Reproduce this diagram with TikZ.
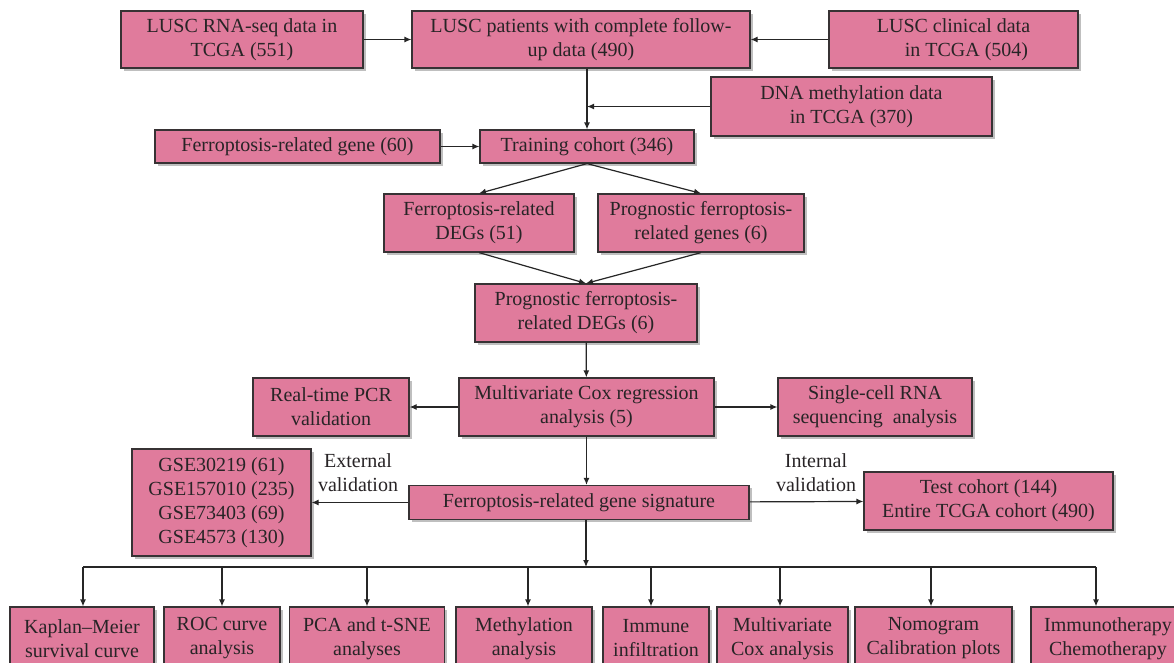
\documentclass[tikz,border=0pt]{standalone}
\usepackage{fontspec}
\setmainfont{Liberation Serif}
\usetikzlibrary{arrows.meta,shadows}
\definecolor{boxfill}{RGB}{224,123,156}
\definecolor{boxline}{RGB}{55,50,52}
\definecolor{txt}{RGB}{40,36,38}
\tikzset{
  box/.style={draw=boxline, fill=boxfill, line width=1.2pt, inner sep=0pt, align=center,
    text=txt, font=\fontsize{20}{24}\selectfont,
    drop shadow={shadow xshift=2.5pt, shadow yshift=-2.5pt, opacity=0.25, fill=black}},
  arr/.style={draw=black!85, line width=1.2pt, -{Latex[length=7pt,width=6pt]}},
  lbl/.style={align=center, text=txt, font=\fontsize{20}{24}\selectfont, inner sep=0pt},
}
\begin{document}
\begin{tikzpicture}[x=1pt,y=-1pt]
\path[use as bounding box] (0,0) rectangle (1174,662);
\fill[white] (0,0) rectangle (1174,662);
\clip (0,0) rectangle (1174,662);
% top row
\node[box, minimum width=242, minimum height=57] (A) at (242,39.5) {LUSC RNA-seq data in\\TCGA (551)};
\node[box, minimum width=338, minimum height=57] (B) at (581,39.5) {LUSC patients with complete follow-\\up data (490)};
\node[box, minimum width=249, minimum height=57] (C) at (953.5,39.5) {LUSC clinical data\\\hspace*{1.3em}in TCGA (504)};
\node[box, minimum width=281, minimum height=59] (D) at (851.5,106.5) {DNA methylation data\\in TCGA (370)};
\node[box, minimum width=285, minimum height=33] (E) at (297.5,146.5) {Ferroptosis-related gene (60)};
\node[box, minimum width=214, minimum height=33] (F) at (587,146.5) {Training cohort (346)};
\node[box, minimum width=190, minimum height=58] (G) at (479,223) {Ferroptosis-related\\DEGs (51)};
\node[box, minimum width=206, minimum height=58] (H) at (701,223) {Prognostic ferroptosis-\\related genes (6)};
\node[box, minimum width=222, minimum height=58] (I) at (586,313) {Prognostic ferroptosis-\\related DEGs (6)};
\node[box, minimum width=255, minimum height=58] (J) at (586.5,407) {Multivariate Cox regression\\analysis (5)};
\node[box, minimum width=156, minimum height=58] (K) at (331,407) {Real-time PCR\\validation};
\node[box, minimum width=194, minimum height=58] (L) at (875,407) {Single-cell RNA\\sequencing~ analysis};
\node[box, minimum width=179, minimum height=107] (M) at (221.5,502.5) {GSE30219 (61)\\GSE157010 (235)\\GSE73403 (69)\\GSE4573 (130)};
\node[box, minimum width=340, minimum height=34] (N) at (579,502.5) {Ferroptosis-related gene signature};
\node[box, minimum width=249, minimum height=58] (O) at (988.5,501) {Test cohort (144)\\Entire TCGA cohort (490)};
\node[lbl] (ext) at (358,473) {External\\validation};
\node[lbl] (int) at (816,473) {Internal\\validation};
% bottom row
\node[box, minimum width=144, minimum height=63] (b1) at (82,638.5) {Kaplan–Meier\\survival curve};
\node[box, minimum width=116, minimum height=63] (b2) at (222,638.5) {ROC curve\\analysis};
\node[box, minimum width=155, minimum height=63] (b3) at (367,638.5) {PCA and t-SNE\\analyses};
\node[box, minimum width=136, minimum height=63] (b4) at (524,638.5) {Methylation\\analysis};
\node[box, minimum width=106, minimum height=63] (b5) at (656,638.5) {Immune\\infiltration};
\node[box, minimum width=131, minimum height=63] (b6) at (782.5,638.5) {Multivariate\\Cox analysis};
\node[box, minimum width=157, minimum height=63] (b7) at (933.5,638.5) {Nomogram\\Calibration plots};
\node[box, minimum width=154, minimum height=63] (b8) at (1108,638.5) {Immunotherapy\\Chemotherapy};
% connectors
\draw[arr] (A) -- (B);
\draw[arr] (C) -- (B);
\draw[arr] (F.north |- B.south) -- (F.north);
\draw[arr] (D.west) -- (D.west -| F.north);
\draw[arr] (E) -- (F);
\draw[arr] (F.south) -- (G.north);
\draw[arr] (F.south) -- (H.north);
\draw[arr] (G.south) -- (I.north);
\draw[arr] (H.south) -- (I.north);
\draw[arr] (I) -- (J);
\draw[arr] (J) -- (K);
\draw[arr] (J) -- (L);
\draw[arr] (J.south) -- (J.south |- N.north);
\draw[arr] (N) -- (M);
\draw[arr] (N) -- (O);
\coordinate (busC) at (586,567);
\coordinate (busL) at (83,567);
\coordinate (busR) at (1096,567);
\coordinate (d4) at (528,567);
\coordinate (d5) at (651,567);
\coordinate (d6) at (780,567);
\coordinate (d7) at (931,567);
\draw[arr] (busC |- N.south) -- (busC);
\draw[line width=1.2pt, draw=black!85] (busL) -- (busR);
\draw[arr] (busL) -- (busL |- b1.north);
\draw[arr] (b2.north |- busL) -- (b2.north);
\draw[arr] (b3.north |- busL) -- (b3.north);
\draw[arr] (d4) -- (d4 |- b4.north);
\draw[arr] (d5) -- (d5 |- b5.north);
\draw[arr] (d6) -- (d6 |- b6.north);
\draw[arr] (d7) -- (d7 |- b7.north);
\draw[arr] (busR) -- (busR |- b8.north);
\end{tikzpicture}
\end{document}
